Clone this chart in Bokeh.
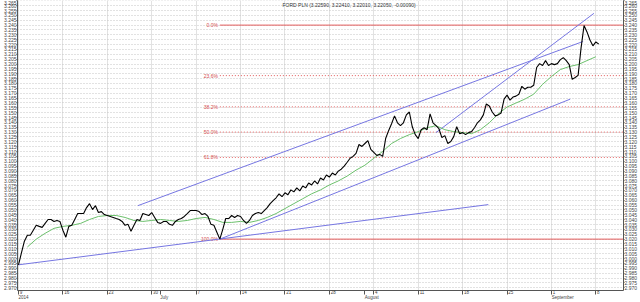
import numpy as np
from bokeh.plotting import figure
from bokeh.models import Range1d, LinearAxis, FixedTicker, Label, NumeralTickFormatter
from bokeh.core.properties import value
from bokeh.embed import file_html
from bokeh.resources import INLINE

title_text = "FORD PLN (3.22590, 3.22410, 3.22010, 3.22050, -0.00090)"

# price sampled every 1/3 trading day, starting Monday 9 June 2014
price_step = 1.0 / 3.0
price = [
    2.9936, 3.0058, 3.0179, 3.0240, 3.0240, 3.0291, 3.0342, 3.0331, 3.0321, 3.0362,
    3.0402, 3.0402, 3.0382, 3.0392, 3.0382, 3.0291, 3.0220, 3.0331, 3.0342, 3.0402,
    3.0463, 3.0463, 3.0463, 3.0524, 3.0565, 3.0504, 3.0544, 3.0473, 3.0483, 3.0453,
    3.0443, 3.0433, 3.0423, 3.0412, 3.0402, 3.0382, 3.0342, 3.0352, 3.0281, 3.0342,
    3.0402, 3.0392, 3.0463, 3.0453, 3.0443, 3.0473, 3.0423, 3.0372, 3.0362, 3.0382,
    3.0382, 3.0352, 3.0342, 3.0382, 3.0402, 3.0412, 3.0433, 3.0463, 3.0494, 3.0494,
    3.0494, 3.0483, 3.0453, 3.0463, 3.0433, 3.0352, 3.0342, 3.0271, 3.0200, 3.0301,
    3.0412, 3.0412, 3.0443, 3.0423, 3.0443, 3.0433, 3.0392, 3.0362, 3.0392, 3.0443,
    3.0463, 3.0473, 3.0463, 3.0494, 3.0524, 3.0565, 3.0595, 3.0625, 3.0666, 3.0636,
    3.0676, 3.0656, 3.0706, 3.0686, 3.0727, 3.0696, 3.0747, 3.0727, 3.0777, 3.0757,
    3.0798, 3.0767, 3.0828, 3.0808, 3.0859, 3.0838, 3.0879, 3.0859, 3.0899, 3.0919,
    3.0950, 3.0990, 3.1031, 3.1051, 3.1082, 3.1173, 3.1153, 3.1183, 3.1213, 3.1122,
    3.1092, 3.1061, 3.1071, 3.1051, 3.1234, 3.1315, 3.1386, 3.1467, 3.1396, 3.1366,
    3.1396, 3.1477, 3.1507, 3.1355, 3.1274, 3.1234, 3.1325, 3.1345, 3.1325, 3.1487,
    3.1396, 3.1366, 3.1335, 3.1244, 3.1264, 3.1183, 3.1203, 3.1254, 3.1355, 3.1284,
    3.1295, 3.1274, 3.1295, 3.1305, 3.1345, 3.1396, 3.1426, 3.1477, 3.1589, 3.1568,
    3.1507, 3.1467, 3.1477, 3.1497, 3.1639, 3.1680, 3.1629, 3.1660, 3.1670, 3.1690,
    3.1771, 3.1741, 3.1761, 3.1761, 3.1781, 3.1964, 3.2004, 3.1984, 3.2035, 3.1984,
    3.2004, 3.1994, 3.2004, 3.2045, 3.2065, 3.2035, 3.1994, 3.1842, 3.1862, 3.1883,
    3.2166, 3.2395, 3.2330, 3.2247, 3.2187, 3.2227, 3.2205,
]
price_day = [i * price_step for i in range(len(price))]

# moving average, one value per trading day
ma_day = list(range(1, 66))
ma_value = [
    3.0119, 3.0200, 3.0260, 3.0311, 3.0331, 3.0342, 3.0362, 3.0402, 3.0433, 3.0443,
    3.0443, 3.0423, 3.0392, 3.0382, 3.0392, 3.0402, 3.0392, 3.0382, 3.0392, 3.0412,
    3.0423, 3.0402, 3.0372, 3.0372, 3.0382, 3.0372, 3.0392, 3.0423, 3.0463, 3.0514,
    3.0565, 3.0615, 3.0666, 3.0706, 3.0757, 3.0798, 3.0848, 3.0909, 3.0960, 3.1031,
    3.1102, 3.1183, 3.1234, 3.1274, 3.1305, 3.1345, 3.1366, 3.1325, 3.1305, 3.1295,
    3.1284, 3.1325, 3.1396, 3.1487, 3.1558, 3.1599, 3.1639, 3.1690, 3.1791, 3.1872,
    3.1943, 3.1974, 3.1994, 3.2035, 3.2075,
]

# Fibonacci retracement
fib_high = 3.2400
fib_low = 3.0200
fib_low_day = 22.67
fib_ratios = [0.0, 0.236, 0.382, 0.5, 0.618, 1.0]
fib_labels = ["0.0%", "23.6%", "38.2%", "50.0%", "61.8%", "100.0%"]

# trend lines (start day, start price, end day, end price)
trend_x0 = [13.44, 47.0, 22.67, 0.0]
trend_y0 = [3.0544, 3.1295, 3.0200, 2.9936]
trend_x1 = [63.56, 64.78, 62.11, 52.89]
trend_y1 = [3.2232, 3.2521, 3.1639, 3.0555]

# time axis
week_days = [0, 5, 10, 15, 20, 25, 30, 35, 40, 45, 50, 55, 60, 65]
week_labels = ["9", "16", "23", "30", "7", "14", "21", "28", "4", "11", "18", "25", "1", "8"]
month_days = [0, 16, 39, 60]
month_labels = ["2014", "July", "August", "September"]
month_pad = [8, 6, 11, 18]   # no-break spaces that push a centred label to start at its tick

y_ticks = [round(2.970 + 0.005 * i, 3) for i in range(60)]

x_start, x_end = -0.11, 68.11
y_start, y_end = 2.9672, 3.2653

FONT = "Liberation Sans"
NBSP = "\u00a0"

p = figure(width=640, height=302, x_range=Range1d(x_start, x_end),
           y_range=Range1d(y_start, y_end), output_backend="svg",
           toolbar_location=None, min_border_left=13, min_border_right=13,
           min_border_top=0, min_border_bottom=8)
p.outline_line_color = None
p.background_fill_color = "white"
p.border_fill_color = "white"

# grids
p.xgrid.ticker = FixedTicker(ticks=week_days)
p.xgrid.grid_line_color = "#e2e2e2"
p.xgrid.grid_line_width = 1
p.ygrid.ticker = FixedTicker(ticks=y_ticks)
p.ygrid.grid_line_color = "#c4c4c4"
p.ygrid.grid_line_dash = "1 2"
p.ygrid.grid_line_width = 1

# y axes
right_axis = LinearAxis()
p.add_layout(right_axis, "right")
for ax in [p.yaxis[0], right_axis]:
    ax.ticker = FixedTicker(ticks=y_ticks)
    ax.formatter = NumeralTickFormatter(format="0.000")
    ax.major_label_text_font_size = "5px"
    ax.major_label_text_font = FONT
    ax.major_label_text_color = "#444444"
    ax.major_tick_in = 0
    ax.major_tick_out = 1
    ax.minor_tick_in = 0
    ax.minor_tick_out = 0
    ax.minor_tick_line_color = None
    ax.major_label_standoff = 0
    ax.axis_line_color = "#555555"
    ax.major_tick_line_color = "#555555"

# x axis: weekly ticks with day numbers beside the tick, month starts as minor ticks
xa = p.xaxis[0]
xa.ticker = FixedTicker(ticks=week_days, minor_ticks=[d for d in month_days if d not in week_days])
xa.major_label_overrides = {d: NBSP * (2 * len(t) + 2) + t for d, t in zip(week_days, week_labels)}
xa.major_label_text_font_size = "4.5px"
xa.major_label_text_font = FONT
xa.major_label_text_color = "#444444"
xa.major_tick_in = 0
xa.major_tick_out = 4
xa.minor_tick_in = 0
xa.minor_tick_out = 4
xa.minor_tick_line_color = "#555555"
xa.major_label_standoff = -5
xa.axis_line_color = "#555555"
xa.major_tick_line_color = "#555555"

# second row: month names
month_axis = LinearAxis(ticker=FixedTicker(ticks=month_days))
month_axis.major_label_overrides = {d: NBSP * k + t for d, t, k in zip(month_days, month_labels, month_pad)}
month_axis.major_label_text_font_size = "4.5px"
month_axis.major_label_text_font = FONT
month_axis.major_label_text_color = "#444444"
month_axis.major_tick_in = 0
month_axis.major_tick_out = 0
month_axis.minor_tick_in = 0
month_axis.minor_tick_out = 0
month_axis.minor_tick_line_color = None
month_axis.major_tick_line_color = None
month_axis.axis_line_color = None
month_axis.major_label_standoff = -3
p.add_layout(month_axis, "below")

# title
p.add_layout(Label(x=265, y=y_end, x_units="screen", y_units="data", y_offset=-1,
                   text=title_text, text_font=FONT, text_font_size="5px",
                   text_color="#333333", text_baseline="top", text_align="left"))

# fibonacci levels
fib_levels = [fib_high - r * (fib_high - fib_low) for r in fib_ratios]
solid_lv = [fib_levels[0], fib_levels[-1]]
dot_lv = fib_levels[1:-1]
p.segment(x0=[fib_low_day] * 2, y0=solid_lv, x1=[x_end] * 2, y1=solid_lv,
          line_color="#e25c5c", line_width=1)
p.segment(x0=[fib_low_day] * len(dot_lv), y0=dot_lv, x1=[x_end] * len(dot_lv), y1=dot_lv,
          line_color="#e05a5a", line_width=1, line_dash="1 2")
p.text(x=[fib_low_day] * len(fib_levels), y=fib_levels, text=fib_labels,
       x_offset=-2, text_align="right", text_baseline="middle",
       text_font=value(FONT), text_font_size="5px", text_color="#d44a4a")

# trend lines
p.segment(x0=trend_x0, y0=trend_y0, x1=trend_x1, y1=trend_y1,
          line_color="#7676e2", line_width=1)

# moving average
p.line(ma_day, ma_value, line_color="#6cc06c", line_width=1)

# price
p.line(price_day, price, line_color="black", line_width=1.1)

open("out.html", "w").write(file_html(p, INLINE))
